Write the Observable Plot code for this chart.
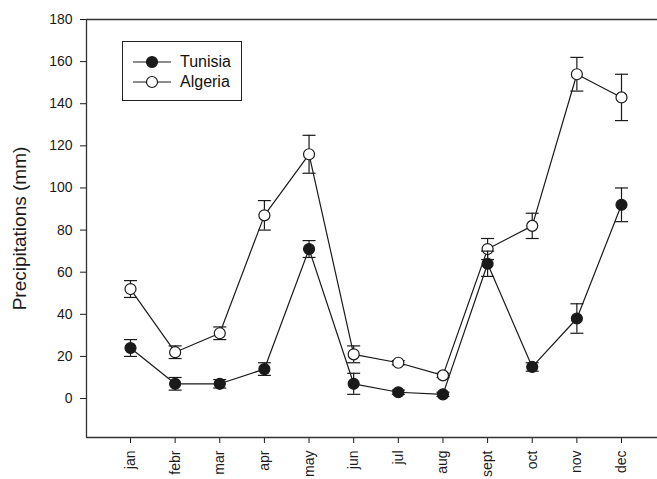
<!DOCTYPE html>
<html>
<head>
<meta charset="utf-8">
<script src="https://cdn.jsdelivr.net/npm/d3@7"></script>
<script src="https://cdn.jsdelivr.net/npm/@observablehq/plot@0.6"></script>
<style>
  html, body { margin: 0; padding: 0; background: #fff; overflow: hidden; }
  #wrap { position: relative; width: 657px; height: 479px; font-family: "Liberation Sans", Arial, sans-serif; }
  #legend { position: absolute; left: 122px; top: 41px; width: 120px; height: 60px; border: 1px solid #222; box-sizing: border-box; background: #fff; }
  .row { position: absolute; left: 10px; height: 20px; display: flex; align-items: center; font-size: 16px; color: #111; }
  .row svg { margin-right: 9px; }
</style>
</head>
<body>
<div id="wrap"></div>
<script>
const months = ["jan","febr","mar","apr","may","jun","jul","aug","sept","oct","nov","dec"];
const tunisia = [24,7,7,14,71,7,3,2,64,15,38,92];
const tunisiaErr = [4,3,2,3,4,5,1,1,6,2,7,8];
const algeria = [52,22,31,87,116,21,17,11,71,82,154,143];
const algeriaErr = [4,3,3,7,9,4,1,1,5,6,8,11];
const seriesNames = ["Tunisia","Algeria"];
const yTicks = [0,20,40,60,80,100,120,140,160,180];
const yDomain = [-18.5, 180];

const insetL = 44, insetR = 36;

const rows = [];
months.forEach((m, i) => {
  rows.push({month: m, series: "Algeria", value: algeria[i], err: algeriaErr[i]});
});
months.forEach((m, i) => {
  rows.push({month: m, series: "Tunisia", value: tunisia[i], err: tunisiaErr[i]});
});

const capSymbol = {
  draw(context, size) {
    const w = 6.5;
    context.moveTo(-w, 0);
    context.lineTo(w, 0);
  }
};

const ink = "#1a1a1a";
const axisInk = "#333";

function seriesMarks(name, fill) {
  const data = rows.filter(d => d.series === name);
  return [
    Plot.ruleX(data, {x: "month", y1: d => d.value - d.err, y2: d => d.value + d.err, stroke: ink, strokeWidth: 1.2}),
    Plot.dot(data, {x: "month", y: d => d.value + d.err, symbol: capSymbol, r: 4, stroke: ink, strokeWidth: 1.2, fill: "none"}),
    Plot.dot(data, {x: "month", y: d => d.value - d.err, symbol: capSymbol, r: 4, stroke: ink, strokeWidth: 1.2, fill: "none"}),
    Plot.line(data, {x: "month", y: "value", stroke: ink, strokeWidth: 1.2}),
    Plot.dot(data, {x: "month", y: "value", r: 5.5, stroke: ink, strokeWidth: 1.2, fill: fill})
  ];
}

const chart = Plot.plot({
  width: 657,
  height: 479,
  marginLeft: 86,
  marginRight: 0,
  marginTop: 19,
  marginBottom: 42,
  style: {fontFamily: "'Liberation Sans', Arial, sans-serif", fontSize: "14px", color: ink, background: "#fff"},
  x: {type: "point", domain: months, padding: 0, round: false, insetLeft: insetL, insetRight: insetR, label: null},
  y: {domain: yDomain, label: null},
  marks: [
    Plot.axisY({ticks: yTicks, tickSize: 6, tickPadding: 8, label: null, fontSize: 14}),
    Plot.axisX({tickRotate: -90, tickSize: 6, tickPadding: 7, label: null, fontSize: 14}),
    Plot.ruleY([yDomain[1]], {stroke: axisInk, strokeWidth: 1.3}),
    Plot.ruleY([yDomain[0]], {stroke: axisInk, strokeWidth: 1.3}),
    Plot.ruleX([months[0]], {dx: -insetL, stroke: axisInk, strokeWidth: 1.3}),
    ...seriesMarks("Algeria", "#fff"),
    ...seriesMarks("Tunisia", ink),
    Plot.text(["Precipitations (mm)"], {frameAnchor: "left", textAnchor: "middle", dx: -67, rotate: -90, fontSize: 19, fill: ink, text: d => d})
  ]
});

const wrap = document.getElementById("wrap");
wrap.appendChild(chart);

const legend = document.createElement("div");
legend.id = "legend";
seriesNames.forEach((name, i) => {
  const row = document.createElement("div");
  row.className = "row";
  row.style.top = (10 + i * 20) + "px";
  const fill = name === "Tunisia" ? ink : "#fff";
  row.innerHTML = `<svg width="38" height="14"><line x1="0" y1="7" x2="38" y2="7" stroke="${ink}" stroke-width="1.2"/><circle cx="19" cy="7" r="5.5" fill="${fill}" stroke="${ink}" stroke-width="1.2"/></svg><span>${name}</span>`;
  legend.appendChild(row);
});
wrap.appendChild(legend);
</script>
</body>
</html>
